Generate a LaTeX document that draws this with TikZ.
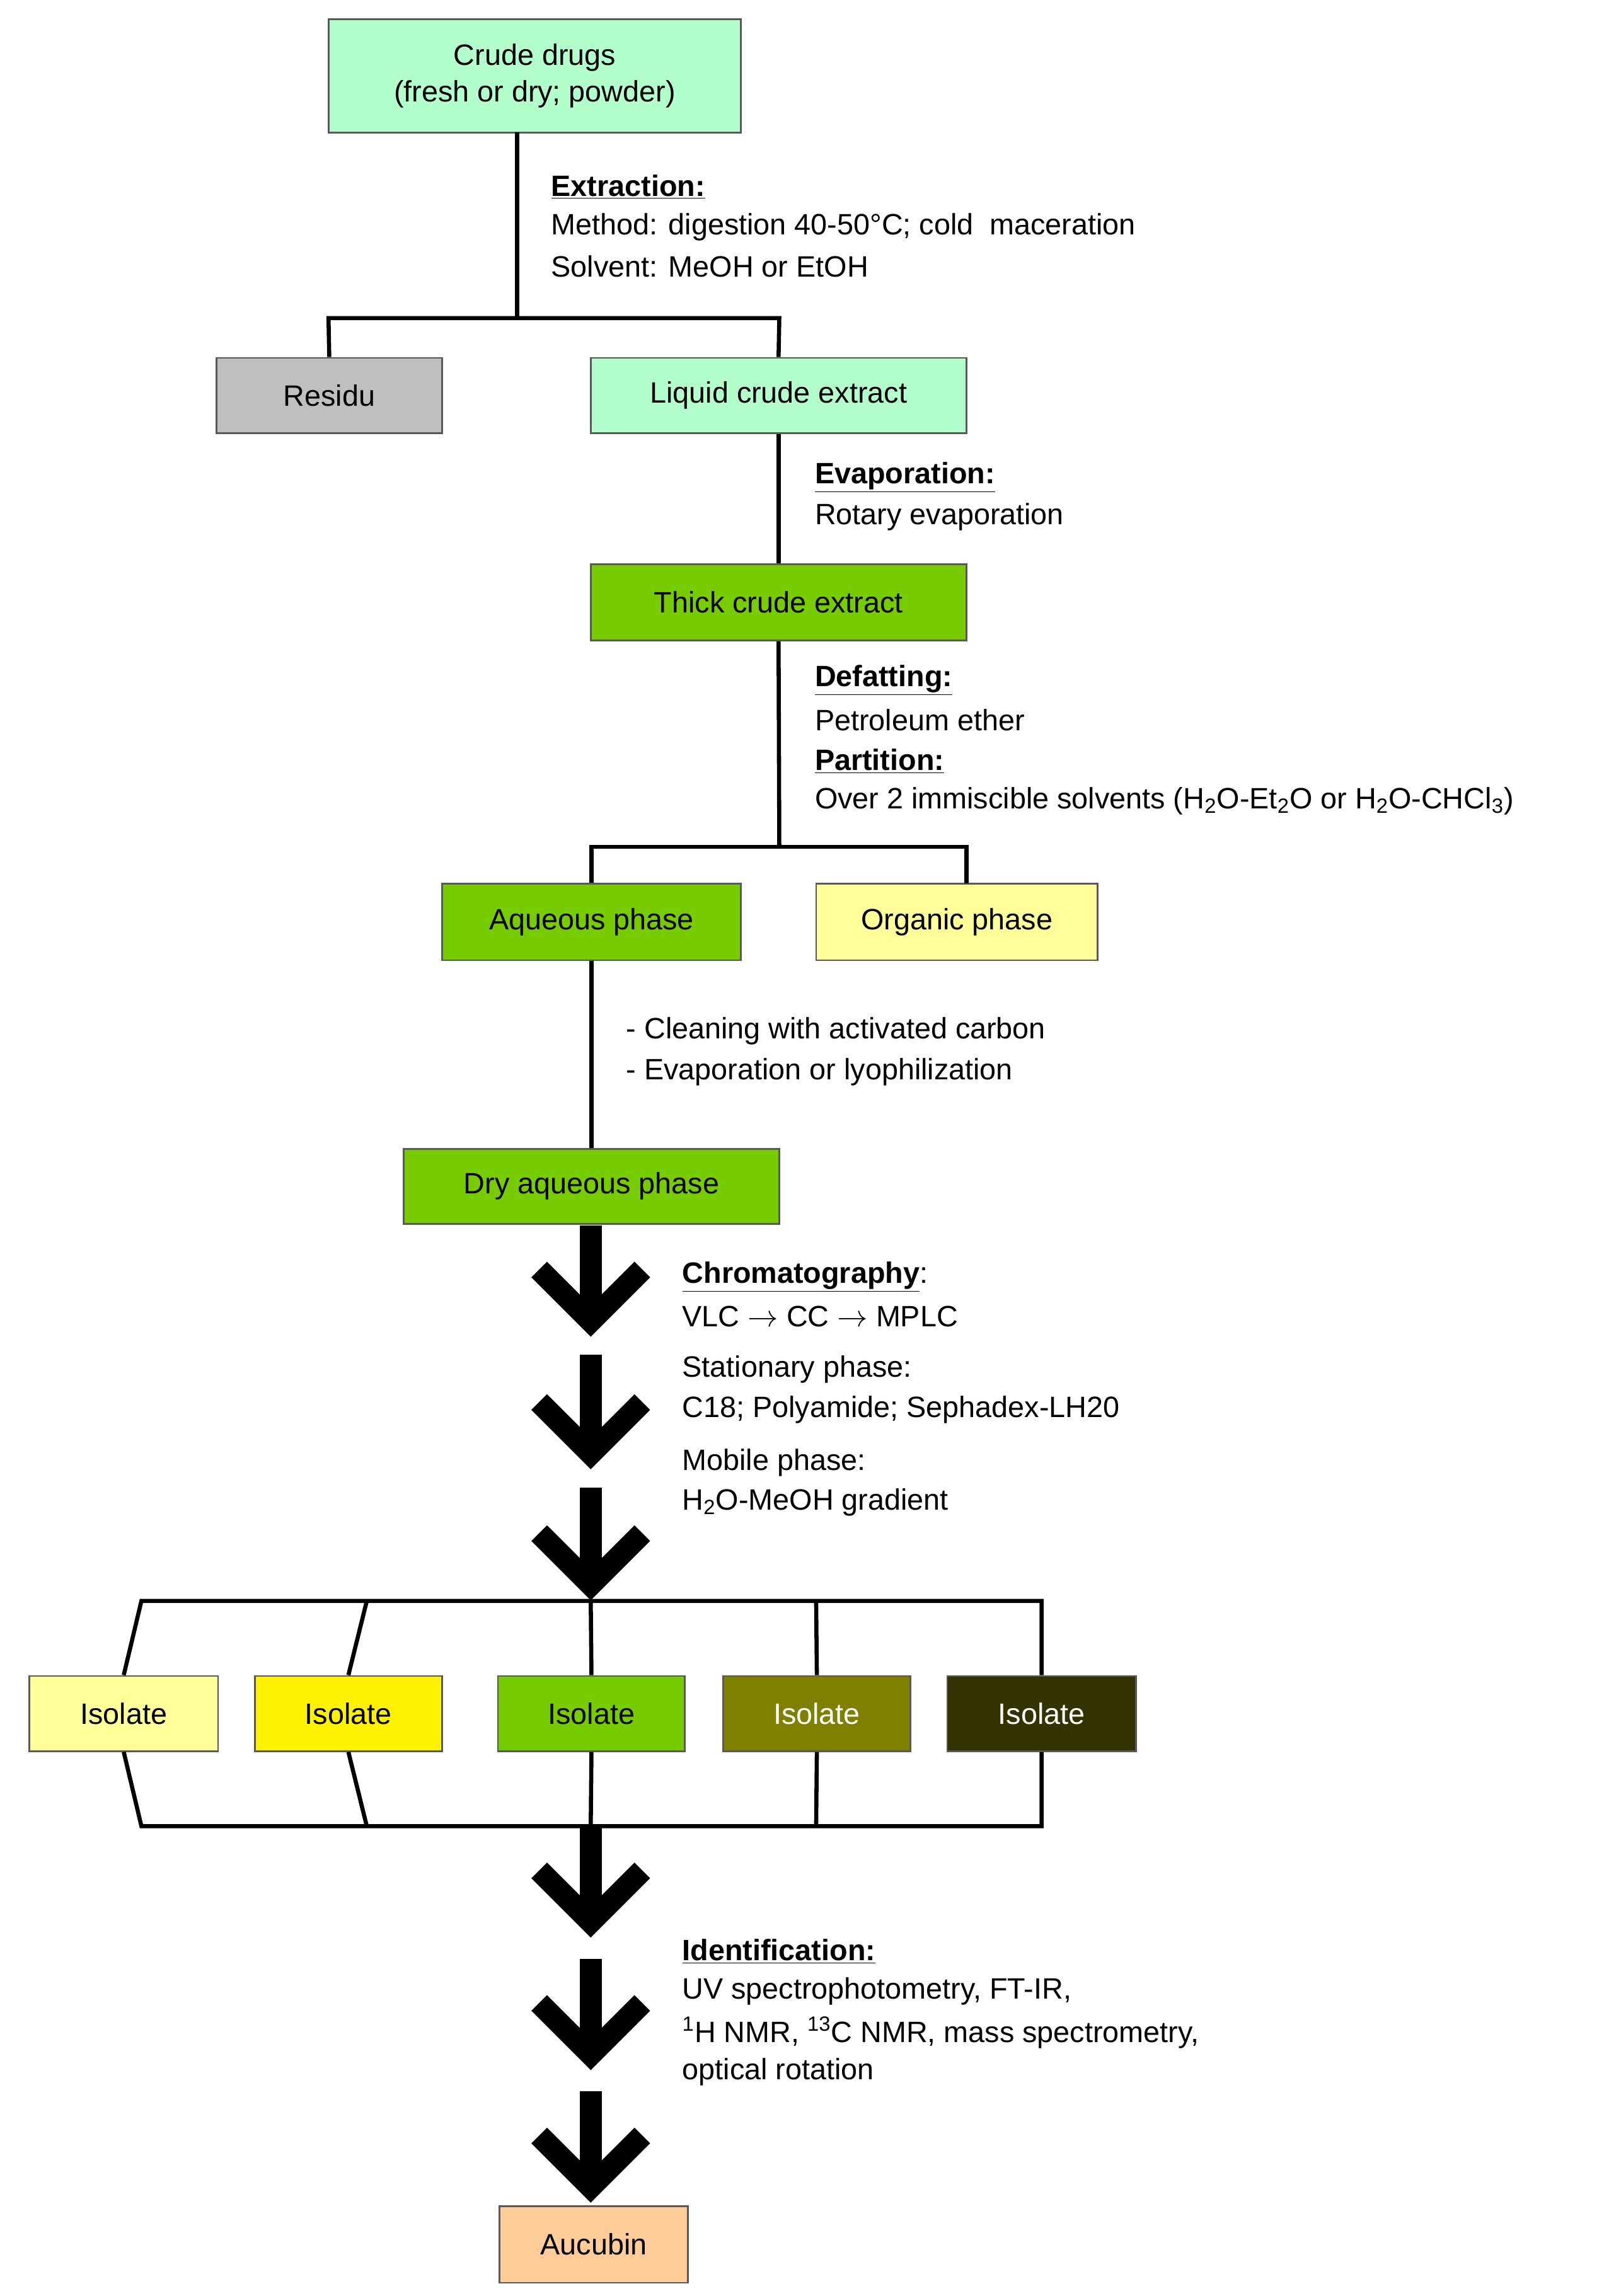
\documentclass[tikz,border=0pt]{standalone}
\usepackage{fontspec}
\setmainfont{Liberation Sans}
\begin{document}
\begin{tikzpicture}[x=1pt,y=-1pt,
  box/.style={draw=black!65,line width=1.2pt,inner sep=0pt,font=\fontsize{20}{25}\selectfont,align=center},
  conn/.style={line width=2.8pt},
  lbl/.style={anchor=west,inner sep=0pt,font=\fontsize{20}{25}\selectfont},
  big/.style={line width=15pt,miter limit=10}]
\useasboundingbox[fill=white] (0,0) rectangle (1100,1559);
\definecolor{lg}{HTML}{B3FFCC}\definecolor{gr}{HTML}{77CC00}
\definecolor{ly}{HTML}{FFFF99}\definecolor{ol}{HTML}{808000}
\definecolor{dk}{HTML}{333300}\definecolor{pe}{HTML}{FFCC99}
\newcommand\bbox[6]{\node[box,fill=#2,minimum width=#5-#3,minimum height=#6-#4] (#1) at ({(#3+#5)/2},{(#4+#6)/2})}
\newcommand\bigarr[2]{\draw[big] (401,#1) -- (401,#2-12); \draw[big] (366,#2-46) -- (401,#2-11) -- (436,#2-46);}
\bbox{crude}{lg}{223}{13}{503}{90}{Crude drugs\\(fresh or dry; powder)};
\bbox{residu}{black!25}{147}{243}{300}{294}{Residu};
\bbox{liquid}{lg}{401}{243}{656}{294}{Liquid crude extract};
\bbox{thick}{gr}{401}{383}{656}{435}{Thick crude extract};
\bbox{aq}{gr}{300}{600}{503}{652}{Aqueous phase};
\bbox{org}{ly}{554}{600}{745}{652}{Organic phase};
\bbox{dry}{gr}{274}{780}{529}{831}{Dry aqueous phase};
\bbox{i1}{ly}{20}{1138}{148}{1189}{Isolate};
\bbox{i2}{yellow}{173}{1138}{300}{1189}{Isolate};
\bbox{i3}{gr}{338}{1138}{465}{1189}{Isolate};
\bbox{i4}{ol}{491}{1138}{618}{1189}{\textcolor{white}{Isolate}};
\bbox{i5}{dk}{643}{1138}{771}{1189}{\textcolor{white}{Isolate}};
\bbox{auc}{pe}{339}{1498}{467}{1550}{Aucubin};
% connectors
\coordinate (j1) at (351,216);
\draw[conn] (351,90) -- (j1);
\draw[conn] (residu.north) -- (223,216) -- (529,216) -- (liquid.north);
\draw[conn] (liquid.south) -- (thick.north);
\coordinate (j2) at (529,575);
\draw[conn] (thick.south) -- (j2);
\draw[conn] (aq.north) |- (j2) -- (656,575) -- (656,600);
\draw[conn] (aq.south) -- (dry.north);
\draw[conn] (i1.north) -- (96,1087) -- (707,1087) -- (i5.north);
\draw[conn] (i2.north) -- (249,1087) (i3.north) -- (401,1087) (i4.north) -- (554,1087);
\draw[conn] (i1.south) -- (96,1240) -- (707,1240) -- (i5.south);
\draw[conn] (i2.south) -- (249,1240) (i3.south) -- (401,1240) (i4.south) -- (554,1240);
\bigarr{832}{908}
\bigarr{920}{998}
\bigarr{1010}{1087}
\bigarr{1240}{1316}
\bigarr{1330}{1406}
\bigarr{1420}{1496}
% labels
\node[lbl] (t1) at (374,127) {\textbf{\underline{Extraction:}}};
\node[lbl] (t2) at (374,154) {Method: digestion 40-50°C; cold\ \ maceration};
\node[lbl] (t3) at (374,181) {Solvent: MeOH or EtOH};
\node[lbl] (t4) at (553,324) {\textbf{\underline{Evaporation:}}};
\node[lbl] (t5) at (553,351) {Rotary evaporation};
\node[lbl] (t6) at (553,462) {\textbf{\underline{Defatting:}}};
\node[lbl] (t7) at (553,489) {Petroleum ether};
\node[lbl] (t8) at (553,517) {\textbf{\underline{Partition:}}};
\node[lbl] (t9) at (553,544) {Over 2 immiscible solvents (H\textsubscript{2}O-Et\textsubscript{2}O or H\textsubscript{2}O-CHCl\textsubscript{3})};
\node[lbl] (t10) at (425,700) {- Cleaning with activated carbon};
\node[lbl] (t11) at (425,728) {- Evaporation or lyophilization};
\node[lbl] (t12) at (463,867) {\textbf{\underline{Chromatography}}:};
\node[lbl] (t13) at (463,894) {VLC $\rightarrow$ CC $\rightarrow$ MPLC};
\node[lbl] (t14) at (463,930) {Stationary phase:};
\node[lbl] (t15) at (463,957) {C18; Polyamide; Sephadex-LH20};
\node[lbl] (t16) at (463,993) {Mobile phase:};
\node[lbl] (t17) at (463,1020) {H\textsubscript{2}O-MeOH gradient};
\node[lbl] (t18) at (463,1325) {\textbf{\underline{Identification:}}};
\node[lbl] (t19) at (463,1352) {UV spectrophotometry, FT-IR,};
\node[lbl] (t20) at (463,1380) {\textsuperscript{1}H NMR, \textsuperscript{13}C NMR, mass spectrometry,};
\node[lbl] (t21) at (463,1407) {optical rotation};
\end{tikzpicture}
\end{document}
